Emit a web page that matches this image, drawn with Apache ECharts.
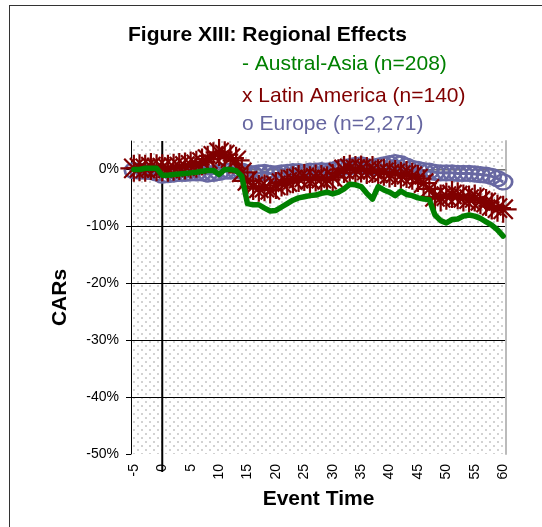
<!DOCTYPE html>
<html lang="en">

<head>
  <meta charset="utf-8">
  <title>Figure XIII: Regional Effects</title>
  <style>
    * {
      margin: 0;
      padding: 0;
    }

    body {
      overflow: hidden;
      background: #fff;
    }

    #frame {
      position: absolute;
      left: 9px;
      top: 5px;
      width: 600px;
      height: 600px;
      border: 1.5px solid #333;
    }

    #chart-container {
      position: absolute;
      left: 0;
      top: 0;
      width: 542px;
      height: 527px;
    }
  </style>
</head>

<body>
  <div id="frame"></div>
  <div id="chart-container"></div>
  <script src="https://cdn.jsdelivr.net/npm/echarts@6/dist/echarts.min.js"></script>
  <script>
    // event time -5 .. 60
    var eventTime = ['-5', '-4', '-3', '-2', '-1', '0', '1', '2', '3', '4', '5', '6', '7', '8', '9', '10',
      '11', '12', '13', '14', '15', '16', '17', '18', '19', '20', '21', '22', '23', '24', '25',
      '26', '27', '28', '29', '30', '31', '32', '33', '34', '35', '36', '37', '38', '39', '40',
      '41', '42', '43', '44', '45', '46', '47', '48', '49', '50', '51', '52', '53', '54', '55',
      '56', '57', '58', '59', '60'];

    // CARs in %
    var australAsia = [0.0, 0.0, 0.2, 0.2, 0.2, -1.0, -1.0, -0.9, -0.8, -0.7, -0.6, -0.5, -0.3, -0.2, -0.2, -0.9,
      0.0, 0.0, -0.2, -1.2, -6.0, -6.2, -6.2, -6.8, -7.3, -7.2, -6.6, -6.0, -5.4, -5.0, -4.8,
      -4.6, -4.5, -4.2, -4.0, -4.3, -4.0, -3.4, -2.6, -2.7, -3.0, -4.2, -5.2, -3.0, -3.6, -4.0,
      -4.6, -3.8, -4.4, -4.6, -5.0, -5.2, -5.3, -8.0, -9.0, -9.4, -8.8, -8.7, -8.2, -8.0, -8.2,
      -8.6, -9.2, -9.8, -10.6, -11.7];

    var latinAmerica = [0.2, 0.3, 0.2, 0.5, 0.3, 0.3, 0.2, 0.4, 0.5, 0.6, 0.8, 0.9, 1.3, 1.8, 2.4, 3.0,
      2.6, 2.0, 1.6, -0.5, -2.0, -3.0, -3.3, -3.2, -3.6, -2.8, -2.4, -2.2, -1.8, -1.6, -1.4,
      -1.8, -1.5, -1.6, -1.8, -1.4, -0.6, 0.0, 0.2, 0.0, 0.1, -0.2, 0.0, -0.6, -0.5, -0.8,
      -0.7, -1.0, -0.9, -1.2, -1.6, -2.4, -3.4, -4.8, -5.0, -4.7, -4.4, -4.6, -5.0, -5.2, -5.0,
      -5.5, -5.8, -6.4, -6.8, -7.0];

    var europe = [-0.2, -0.3, -0.3, -0.4, -0.6, -1.0, -0.9, -0.8, -0.7, -0.7, -0.6, -0.6, -0.6, -0.8, -0.7, -0.5,
      -0.3, -0.3, -0.2, -0.3, -0.6, -0.8, -0.6, -0.5, -0.7, -0.8, -0.6, -0.5, -0.4, -0.4, -0.5,
      -0.3, -0.3, -0.2, -0.3, -0.1, 0.2, 0.4, 0.5, 0.7, 0.8, 0.5, 0.3, 0.6, 0.8, 1.0,
      1.2, 1.0, 0.6, 0.2, 0.0, -0.2, -0.3, -0.5, -0.6, -0.6, -0.6, -0.7, -0.7, -0.7, -0.8,
      -0.9, -1.0, -1.2, -1.6, -2.2];

    var titleText = 'Figure XIII: Regional Effects';
    var legendLines = ['- Austral-Asia (n=208)', 'x Latin America (n=140)', 'o Europe (n=2,271)'];

    var FONT = '"Liberation Sans", Arial, sans-serif';

    // dotted plot area fill
    var pat = document.createElement('canvas');
    pat.width = 8;
    pat.height = 8;
    var pc = pat.getContext('2d');
    pc.fillStyle = '#ffffff';
    pc.fillRect(0, 0, 8, 8);
    pc.fillStyle = '#d2d2d2';
    pc.fillRect(1, 1, 2, 2);
    pc.fillRect(5, 5, 2, 2);

    var dom = document.getElementById('chart-container');
    var myChart = echarts.init(dom, null, { renderer: 'canvas' });

    var option = {
      animation: false,
      title: [
        { text: titleText, left: 128, top: 25, padding: 0, textStyle: { fontFamily: FONT, fontSize: 21, fontWeight: 'bold', color: '#000' } },
        { text: legendLines[0], left: 242, top: 54, padding: 0, textStyle: { fontFamily: FONT, fontSize: 21, fontWeight: 'normal', color: '#008000' } },
        { text: legendLines[1], left: 242, top: 86, padding: 0, textStyle: { fontFamily: FONT, fontSize: 21, fontWeight: 'normal', color: '#800000' } },
        { text: legendLines[2], left: 242, top: 114, padding: 0, textStyle: { fontFamily: FONT, fontSize: 21, fontWeight: 'normal', color: '#6666a0' } }
      ],
      grid: {
        left: 131,
        right: 36,
        top: 141,
        bottom: 73,
        show: true,
        borderWidth: 0,
        backgroundColor: { image: pat, repeat: 'repeat' }
      },
      xAxis: {
        type: 'category',
        data: eventTime,
        boundaryGap: true,
        name: 'Event Time',
        nameLocation: 'middle',
        nameGap: 35,
        nameTextStyle: { fontFamily: FONT, fontSize: 21, fontWeight: 'bold', color: '#000' },
        axisLine: { lineStyle: { color: '#999', width: 1.5 } },
        axisTick: { show: false },
        axisLabel: {
          interval: 4,
          rotate: 90,
          margin: 10,
          fontFamily: FONT,
          fontSize: 14,
          color: '#000'
        },
        splitLine: { show: false }
      },
      yAxis: [
        {
          type: 'value',
          min: -50,
          max: 5,
          interval: 10,
          name: 'CARs',
          nameLocation: 'middle',
          nameGap: 60,
          nameTextStyle: { fontFamily: FONT, fontSize: 21, fontWeight: 'bold', color: '#000' },
          axisLine: { show: true, lineStyle: { color: '#000', width: 1 } },
          axisTick: { show: true, length: 5, inside: false, lineStyle: { color: '#000' } },
          axisLabel: {
            formatter: '{value}%',
            showMaxLabel: false,
            margin: 12,
            fontFamily: FONT,
            fontSize: 14,
            color: '#000'
          },
          splitLine: { show: true, showMaxLine: false, showMinLine: false, lineStyle: { color: '#000', width: 1 } }
        },
        {
          type: 'value',
          min: -50,
          max: 5,
          position: 'right',
          axisLine: { show: true, lineStyle: { color: '#bbb', width: 2 } },
          axisTick: { show: false },
          axisLabel: { show: false },
          splitLine: { show: false }
        }
      ],
      series: [
        {
          // vertical line at event time 0
          type: 'custom',
          clip: false,
          silent: true,
          z: 1,
          data: [['0', 0]],
          renderItem: function (params, api) {
            var top = api.coord(['0', 5]);
            var bot = api.coord(['0', -50]);
            return {
              type: 'line',
              shape: { x1: top[0], y1: top[1], x2: bot[0], y2: bot[1] + 18 },
              style: { stroke: '#000', lineWidth: 2 }
            };
          }
        },
        {
          name: 'Europe',
          type: 'line',
          data: europe,
          z: 2,
          symbol: 'circle',
          symbolSize: [18, 15],
          showAllSymbol: true,
          itemStyle: { color: 'rgba(0,0,0,0)', borderColor: '#6868a2', borderWidth: 2.5 },
          lineStyle: { color: '#6868a2', width: 3 }
        },
        {
          name: 'Latin America',
          type: 'line',
          data: latinAmerica,
          z: 3,
          symbol: 'path://M0,0L10,10M10,0L0,10M5,-2L5,12M-2,5L12,5',
          symbolSize: 27,
          showAllSymbol: true,
          itemStyle: { color: '#800000', borderColor: '#800000', borderWidth: 2.2 },
          lineStyle: { color: '#800000', width: 3 }
        },
        {
          name: 'Austral-Asia',
          type: 'line',
          data: australAsia,
          z: 4,
          symbol: 'none',
          lineStyle: { color: '#008000', width: 5.5, join: 'round', cap: 'round' }
        }
      ]
    };

    if (option && typeof option === 'object') {
      myChart.setOption(option);
    }

    window.addEventListener('resize', myChart.resize);
  </script>
</body>

</html>
